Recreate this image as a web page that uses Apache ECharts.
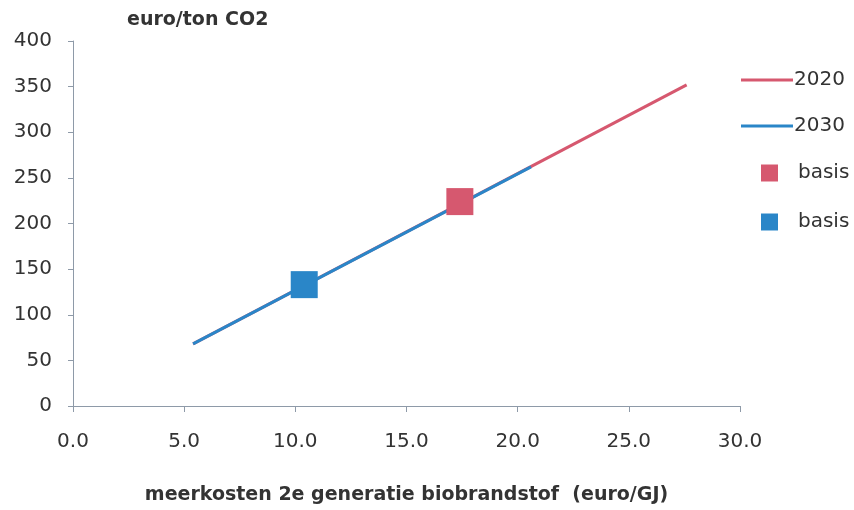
<!DOCTYPE html>
<html>
<head>
<meta charset="utf-8">
<script src="https://cdn.jsdelivr.net/npm/echarts@6/dist/echarts.min.js"></script>
<style>
  html, body { margin: 0; padding: 0; background: #fff; }
  #chart { width: 854px; height: 510px; }
</style>
</head>
<body>
<div id="chart"></div>
<script>
// data
const yTicks = [0, 50, 100, 150, 200, 250, 300, 350, 400];
const xTicks = [0, 5, 10, 15, 20, 25, 30];
const line2020X = [5.4, 27.6];
const line2020Y = [68, 352];
const line2030X = [5.4, 20.6];
const line2030Y = [68, 262];
const basis2020 = [17.4, 224];
const basis2030 = [10.4, 133];

const pink = '#d6586f';
const blue = '#2a86c8';
const font = '"DejaVu Sans", sans-serif';

const pairs = (xs, ys) => xs.map((x, i) => [x, ys[i]]);

const chart = echarts.init(document.getElementById('chart'));

const option = {
  animation: false,
  textStyle: { fontFamily: font, color: '#333' },
  title: {
    text: 'euro/ton CO2',
    left: 127, top: 11, padding: 0,
    textStyle: { fontSize: 19, fontWeight: 'bold', color: '#333', fontFamily: font }
  },
  grid: { left: 73, top: 41, width: 667, height: 365 },
  legend: [
    {
      data: [{ name: '2020', icon: 'rect' }, { name: '2030', icon: 'rect' }],
      orient: 'vertical',
      left: 741, top: 70, padding: 0,
      itemWidth: 52, itemHeight: 3,
      itemGap: 26,
      textStyle: { fontSize: 20, color: '#333', lineHeight: 18, padding: [0, 0, 0, -4] }
    },
    {
      data: [{ name: 'basis 2020', icon: 'rect' }, { name: 'basis 2030', icon: 'rect' }],
      orient: 'vertical',
      left: 761, top: 163, padding: 0,
      itemWidth: 17, itemHeight: 17,
      itemGap: 29,
      formatter: () => 'basis',
      textStyle: { fontSize: 20, color: '#333', lineHeight: 18, padding: [0, 0, 0, 15] }
    }
  ],
  xAxis: {
    type: 'value',
    min: xTicks[0], max: xTicks[xTicks.length - 1], interval: 5,
    name: 'meerkosten 2e generatie biobrandstof  (euro/GJ)',
    nameLocation: 'middle',
    nameGap: 80,
    nameTextStyle: { fontSize: 19, fontWeight: 'bold', color: '#333' },
    axisLine: { lineStyle: { color: '#8e9aa8', width: 1 } },
    axisTick: { show: true, length: 6, lineStyle: { color: '#8e9aa8' } },
    splitLine: { show: false },
    axisLabel: {
      fontSize: 20, color: '#333', margin: 26,
      formatter: v => v.toFixed(1)
    }
  },
  yAxis: {
    type: 'value',
    min: yTicks[0], max: yTicks[yTicks.length - 1], interval: 50,
    axisLine: { show: true, lineStyle: { color: '#8e9aa8', width: 1 } },
    axisTick: { show: true, length: 5, lineStyle: { color: '#8e9aa8' } },
    splitLine: { show: false },
    axisLabel: { fontSize: 20, color: '#333', margin: 21 }
  },
  series: [
    {
      name: '2020', type: 'line',
      data: pairs(line2020X, line2020Y),
      showSymbol: false, symbol: 'none',
      lineStyle: { color: pink, width: 3 },
      itemStyle: { color: pink }
    },
    {
      name: '2030', type: 'line',
      data: pairs(line2030X, line2030Y),
      showSymbol: false, symbol: 'none',
      lineStyle: { color: blue, width: 3 },
      itemStyle: { color: blue }
    },
    {
      name: 'basis 2020', type: 'scatter',
      data: [basis2020],
      symbol: 'rect', symbolSize: 27,
      itemStyle: { color: pink, opacity: 1 },
      z: 5
    },
    {
      name: 'basis 2030', type: 'scatter',
      data: [basis2030],
      symbol: 'rect', symbolSize: 27,
      itemStyle: { color: blue, opacity: 1 },
      z: 5
    }
  ]
};

chart.setOption(option);
</script>
</body>
</html>
